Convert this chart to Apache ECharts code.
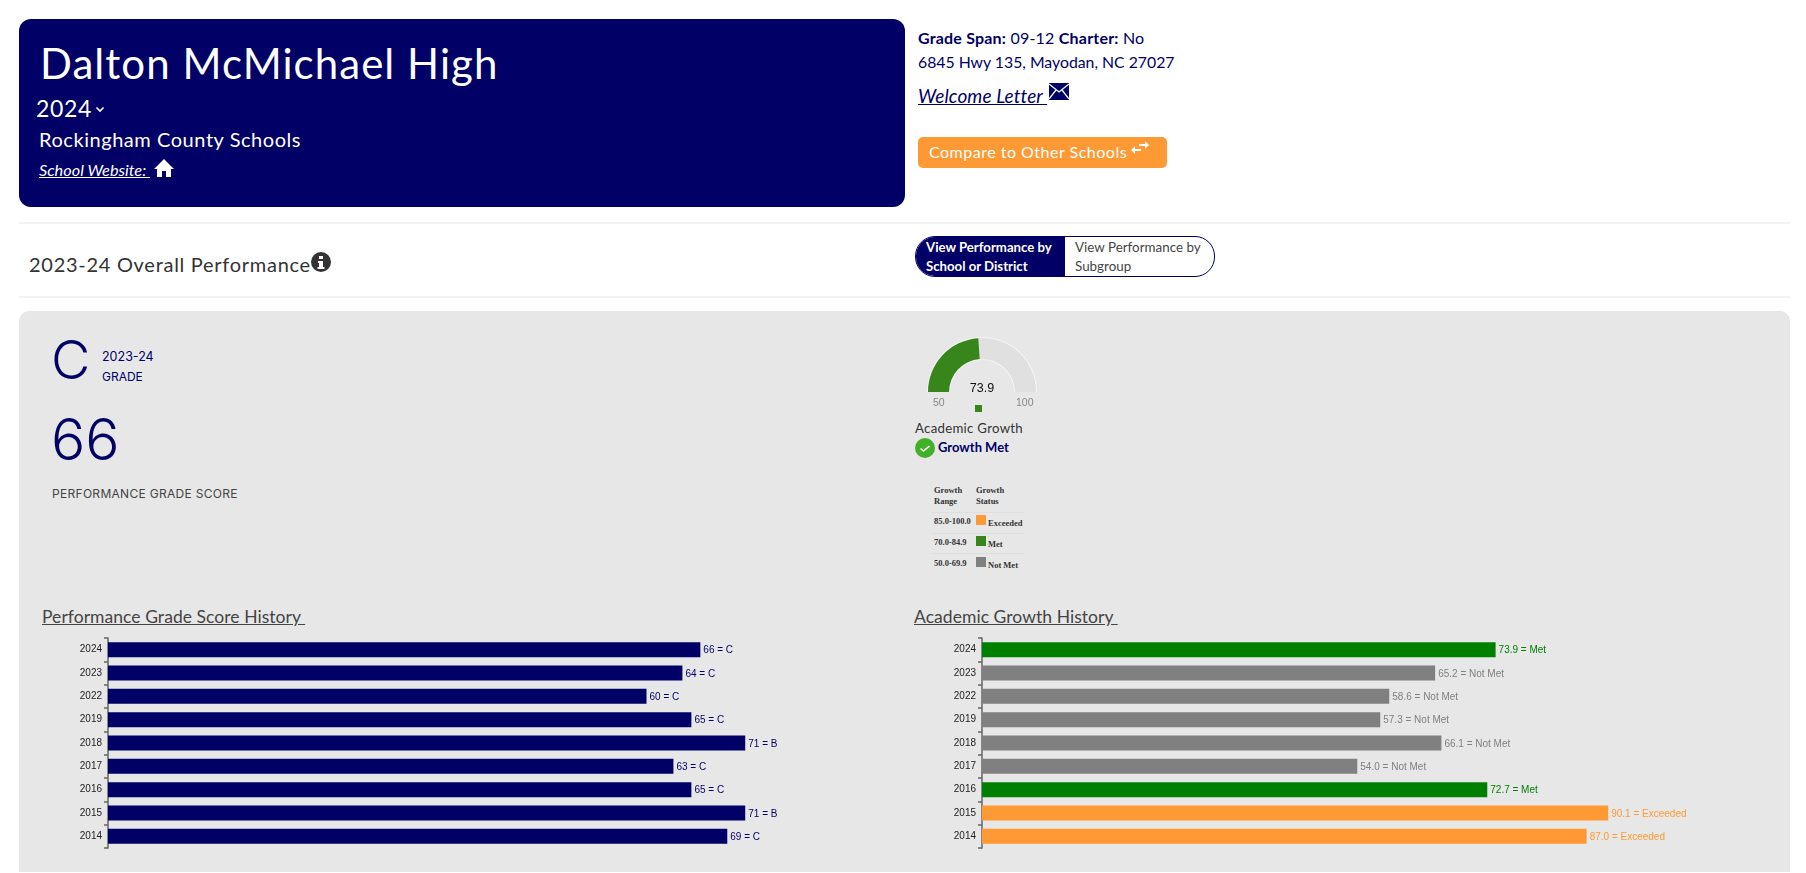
<!DOCTYPE html>
<html>
<head>
<meta charset="utf-8">
<title>Dalton McMichael High</title>
<script src="https://cdn.jsdelivr.net/npm/echarts@6/dist/echarts.min.js"></script>
<style>
html,body{margin:0;padding:0;background:#fff;width:1806px;height:873px;overflow:hidden;font-family:Lato,"Open Sans",sans-serif}
.a{position:absolute;white-space:nowrap;line-height:1}
.box{position:absolute}
.inter{font-family:Inter,sans-serif}
.ser{font-family:"Liberation Serif",serif;font-weight:bold;font-size:8.5px;color:#333}
#gradeChart,#growthChart,#gaugeChart{position:absolute}
</style>
</head>
<body>
<div class="box" style="left:19px;top:19px;width:886px;height:188px;background:#000066;border-radius:12px"></div>
<div class="a" style="left:40px;top:42px;font-size:42px;color:#fff;letter-spacing:1.05px">Dalton McMichael High</div>
<div class="a" style="left:36px;top:97px;font-size:23px;color:#fff;letter-spacing:.7px">2024</div>
<svg class="box" style="left:95px;top:106px" width="10" height="7"><path d="M1.5 1.5L5 5l3.5-3.5" fill="none" stroke="#fff" stroke-width="1.6"/></svg>
<div class="a" style="left:39px;top:129px;font-size:20px;color:#fff;letter-spacing:.55px">Rockingham County Schools</div>
<div class="a" style="left:39px;top:162px;font-size:16.3px;color:#fff;font-style:italic;text-decoration:underline">School Website:&nbsp;</div>
<svg class="box" style="left:154px;top:159px" width="20" height="18" viewBox="0 0 20 18"><path d="M10 0L0 10h3v8h5v-6h4v6h5v-8h3z" fill="#fff"/></svg>

<div class="a" style="left:918px;top:30px;font-size:16px;color:#000066;letter-spacing:.2px"><b>Grade Span:</b> 09-12 <b>Charter:</b> No</div>
<div class="a" style="left:918px;top:54px;font-size:15.8px;color:#000066">6845 Hwy 135, Mayodan, NC 27027</div>
<div class="a" style="left:918px;top:86px;font-size:19px;color:#000066;font-style:italic;text-decoration:underline;letter-spacing:.1px">Welcome Letter&nbsp;</div>
<svg class="box" style="left:1049px;top:83px" width="20" height="17" viewBox="0 0 20 17"><rect width="20" height="17" fill="#000066"/><path d="M0 1l10 8 10-8M0 16l7-9M20 16l-7-9" fill="none" stroke="#fff" stroke-width="1.3"/></svg>
<div class="box" style="left:918px;top:137px;width:249px;height:31px;background:#ff9933;border-radius:5px"></div>
<div class="a" style="left:929px;top:144px;font-size:16px;color:#fff;letter-spacing:.5px">Compare to Other Schools</div>
<svg class="box" style="left:1131px;top:140px" width="18" height="16" viewBox="0 0 18 16"><path d="M8 4h6V1l4 4-4 4V6H8zM10 9H4V6l-4 4 4 4v-3h6z" fill="#fff"/></svg>

<div class="box" style="left:19px;top:222px;width:1771px;height:2px;background:#f3f3f3"></div>
<div class="box" style="left:19px;top:296px;width:1771px;height:2px;background:#f3f3f3"></div>
<div class="a" style="left:29px;top:254px;font-size:20px;color:#333;letter-spacing:.72px">2023-24 Overall Performance</div>
<svg class="box" style="left:311px;top:252px" width="20" height="20" viewBox="0 0 20 20"><circle cx="10" cy="10" r="10" fill="#333"/><rect x="8" y="4" width="4" height="3" fill="#fff"/><path d="M7 9h5v6h1.5v2h-7v-2H8v-4H7z" fill="#fff"/></svg>

<div class="box" style="left:915px;top:236px;width:298px;height:39px;border:1px solid #000066;border-radius:20px;overflow:hidden;background:#fff">
  <div class="box" style="left:0;top:0;width:149px;height:39px;background:#000066"></div>
</div>
<div class="a" style="left:926px;top:238px;font-size:13.2px;color:#fff;line-height:19px;font-weight:bold">View Performance by<br>School or District</div>
<div class="a" style="left:1075px;top:238px;font-size:13.4px;color:#444;line-height:19px">View Performance by<br>Subgroup</div>

<div class="box" style="left:19px;top:311px;width:1771px;height:561px;background:#e7e7e7;border-radius:10px 10px 0 0"></div>
<div class="a inter" style="left:51px;top:333px;font-size:54px;color:#000066;font-weight:350">C</div>
<div class="a inter" style="left:102px;top:351px;font-size:12.5px;color:#000066">2023-24</div>
<div class="a inter" style="left:102px;top:371px;font-size:12px;color:#000066">GRADE</div>
<div class="a inter" style="left:51px;top:411px;font-size:57px;color:#000066;font-weight:350">66</div>
<div class="a inter" style="left:52px;top:488px;font-size:12px;color:#444;letter-spacing:.3px">PERFORMANCE GRADE SCORE</div>

<div id="gaugeChart" style="left:915px;top:325px;width:135px;height:95px"></div>
<div class="a" style="left:915px;top:422px;font-size:13.2px;color:#333;letter-spacing:.3px">Academic Growth</div>
<svg class="box" style="left:915px;top:438px" width="20" height="20" viewBox="0 0 20 20"><circle cx="10" cy="10" r="10" fill="#43b02a"/><path d="M5.5 10.5l3 2.5 6-5" fill="none" stroke="#fff" stroke-width="1.6"/></svg>
<div class="a" style="left:938px;top:441px;font-size:13px;color:#000066;font-weight:bold">Growth Met</div>

<div class="a ser" style="left:934px;top:486px">Growth</div>
<div class="a ser" style="left:934px;top:497px">Range</div>
<div class="a ser" style="left:976px;top:486px">Growth</div>
<div class="a ser" style="left:976px;top:497px">Status</div>
<div class="box" style="left:931px;top:512px;width:93px;height:1px;background:#dedede"></div>
<div class="box" style="left:931px;top:533px;width:93px;height:1px;background:#dedede"></div>
<div class="box" style="left:931px;top:553px;width:93px;height:1px;background:#dedede"></div>
<div class="a ser" style="left:934px;top:517px">85.0-100.0</div>
<div class="a ser" style="left:934px;top:538px">70.0-84.9</div>
<div class="a ser" style="left:934px;top:559px">50.0-69.9</div>
<div class="box" style="left:976px;top:515px;width:10px;height:10px;background:#ff9933"></div>
<div class="box" style="left:976px;top:536px;width:10px;height:10px;background:#36861b"></div>
<div class="box" style="left:976px;top:557px;width:10px;height:10px;background:#808080"></div>
<div class="a ser" style="left:988px;top:519px">Exceeded</div>
<div class="a ser" style="left:988px;top:540px">Met</div>
<div class="a ser" style="left:988px;top:561px">Not Met</div>

<div class="a" style="left:42px;top:608px;font-size:17.5px;color:#444;text-decoration:underline;letter-spacing:.05px">Performance Grade Score History&nbsp;</div>
<div class="a" style="left:914px;top:608px;font-size:17.5px;color:#444;text-decoration:underline;letter-spacing:.05px">Academic Growth History&nbsp;</div>

<div id="gradeChart" style="left:20px;top:625px;width:860px;height:240px"></div>
<div id="growthChart" style="left:900px;top:625px;width:890px;height:240px"></div>

<script>
var years = ['2024','2023','2022','2019','2018','2017','2016','2015','2014'];
var gradeScores = [66,64,60,65,71,63,65,71,69];
var gradeLetters = ['C','C','C','C','B','C','C','B','C'];
var growthScores = [73.9,65.2,58.6,57.3,66.1,54.0,72.7,90.1,87.0];
var growthStatus = ['Met','Not Met','Not Met','Not Met','Not Met','Not Met','Met','Exceeded','Exceeded'];
var statusColors = { 'Exceeded':'#ff9933', 'Met':'#008000', 'Not Met':'#808080' };
var gaugeValue = 73.9;
var gaugeRange = [50,100];

function historyOption(left, width, xMax, items) {
	return {
		animation:false,
		grid:{ left:left, top:13, width:width, height:210 },
		xAxis:{ type:'value', min:0, max:xMax, show:false },
		yAxis:{
			type:'category',
			inverse:true,
			data:years,
			axisLine:{ lineStyle:{ color:'#666', width:1.5 } },
			axisTick:{ show:true, alignWithLabel:false, length:4, lineStyle:{ color:'#666', width:1.5 } },
			axisLabel:{ color:'#222', fontSize:10, fontFamily:'Liberation Sans', margin:6 }
		},
		series:[{
			type:'bar',
			barWidth:15,
			data:items,
			label:{ show:true, position:'right', distance:3, offset:[0,1], fontSize:10, fontFamily:'Liberation Sans' }
		}]
	};
}

var gradeItems = gradeScores.map(function(v,i){
	return { value:v, itemStyle:{ color:'#000066' },
		label:{ color:'#000066', formatter:v+' = '+gradeLetters[i] } };
});
var growthItems = growthScores.map(function(v,i){
	var c = statusColors[growthStatus[i]];
	return { value:v, itemStyle:{ color:c },
		label:{ color:c, formatter:v.toFixed(1)+' = '+growthStatus[i] } };
});

echarts.init(document.getElementById('gradeChart')).setOption(historyOption(88,718,80,gradeItems));
echarts.init(document.getElementById('growthChart')).setOption(historyOption(82,695,100,growthItems));

// gauge centre sits at 982,392 on the page
function gaugeBase(radius, width, trackColor) {
	return {
		type:'gauge',
		center:[67,67],
		radius:radius,
		startAngle:180,
		endAngle:0,
		min:gaugeRange[0],
		max:gaugeRange[1],
		axisLine:{ roundCap:false, lineStyle:{ width:width, color:[[1,trackColor]] } },
		pointer:{ show:false },
		axisTick:{ show:false },
		splitLine:{ show:false },
		axisLabel:{ show:false },
		anchor:{ show:false },
		title:{ show:false }
	};
}
var gaugeOutline = gaugeBase(55,23,'#f5f5f5');
gaugeOutline.detail = { show:false };
gaugeOutline.data = [];
var gaugeMain = gaugeBase(54,21,'#e0e0e0');
gaugeMain.progress = { show:true, width:21, itemStyle:{ color:'#36861b' } };
gaugeMain.detail = { offsetCenter:[0,-3], fontSize:12.5, color:'#111', fontFamily:'Liberation Sans', fontWeight:'normal', formatter:'{value}' };
gaugeMain.data = [{ value:gaugeValue }];

echarts.init(document.getElementById('gaugeChart')).setOption({
	animation:false,
	series:[gaugeOutline, gaugeMain],
	graphic:[
		{ type:'text', left:18, top:73, style:{ text:String(gaugeRange[0]), fill:'#888', fontSize:10.5, fontFamily:'Liberation Sans' } },
		{ type:'text', left:101, top:73, style:{ text:String(gaugeRange[1]), fill:'#888', fontSize:10.5, fontFamily:'Liberation Sans' } },
		{ type:'rect', left:60, top:80, shape:{ width:7, height:7 }, style:{ fill:'#36861b' } }
	]
});
</script>
</body>
</html>
